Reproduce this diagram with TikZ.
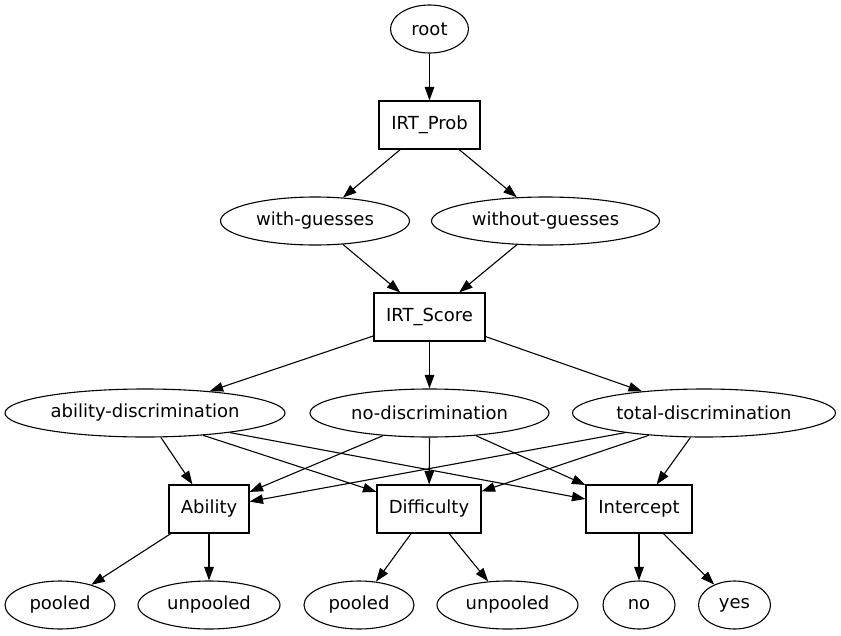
\documentclass[tikz,border=0pt]{standalone}
\usepackage{fontspec}
\setmainfont{DejaVu Sans}
\usetikzlibrary{shapes.geometric,arrows.meta,calc}
\begin{document}
\begin{tikzpicture}[x=1pt,y=-1pt,
 ov/.style={ellipse,draw,line width=1.1pt,inner sep=0pt,minimum height=48pt},
 bx/.style={rectangle,draw,line width=1.1pt,inner sep=0pt,minimum height=48pt},
 ed/.style={draw,line width=1.1pt,-{Triangle[length=13.5pt,width=9.5pt]}},
 font=\fontsize{18}{22}\selectfont]
\useasboundingbox (0,0) rectangle (841,635);
\node[ov,minimum width=78pt] (root) at (429.5,29) {root};
\node[bx,minimum width=101pt] (prob) at (429.5,125) {IRT\_Prob};
\node[ov,minimum width=189pt] (wg) at (315,221) {with-guesses};
\node[ov,minimum width=228pt] (wog) at (545.5,221) {without-guesses};
\node[bx,minimum width=111pt] (sc) at (429.5,317) {IRT\_Score};
\node[ov,minimum width=280pt] (ad) at (145,413) {ability-discrimination};
\node[ov,minimum width=239pt] (nd) at (429.5,413) {no-discrimination};
\node[ov,minimum width=263pt] (td) at (704,413) {total-discrimination};
\node[bx,minimum width=80pt] (ab) at (209,509) {Ability};
\node[bx,minimum width=104pt] (df) at (429,509) {Difficulty};
\node[bx,minimum width=106pt] (ic) at (639,509) {Intercept};
\node[ov,minimum width=110pt] (p1) at (60,605) {pooled};
\node[ov,minimum width=142pt] (u1) at (209,605) {unpooled};
\node[ov,minimum width=110pt] (p2) at (359,605) {pooled};
\node[ov,minimum width=141pt] (u2) at (507.5,605) {unpooled};
\node[ov,minimum width=72pt] (no) at (639,605) {no};
\node[ov,minimum width=72pt] (yes) at (734.5,605) {yes};

\draw[ed] (root) -- (prob);
\draw[ed] (prob) -- (wg);
\draw[ed] (prob) -- (wog);
\draw[ed] (wg) -- (sc);
\draw[ed] (wog) -- (sc);
\draw[ed] (sc) -- (ad);
\draw[ed] (sc) -- (nd);
\draw[ed] (sc) -- (td);
\draw[ed] (ad.-57) -- (ab);
\draw[ed] (ad.-21) -- (df);
\draw[ed] (ad.-13) -- (ic);
\draw[ed] (nd.-154) -- (ab);
\draw[ed] (nd.-90) -- (df);
\draw[ed] (nd.-26.6) -- (ic);
\draw[ed] (td.-166.6) -- (ab);
\draw[ed] (td.-158.6) -- (df);
\draw[ed] (td.-119) -- (ic);
\draw[ed] (ab) -- (p1);
\draw[ed] (ab) -- (u1);
\draw[ed] (df) -- (p2);
\draw[ed] (df) -- (u2);
\draw[ed] (ic) -- (no);
\draw[ed] (ic) -- (yes);
\end{tikzpicture}
\end{document}
